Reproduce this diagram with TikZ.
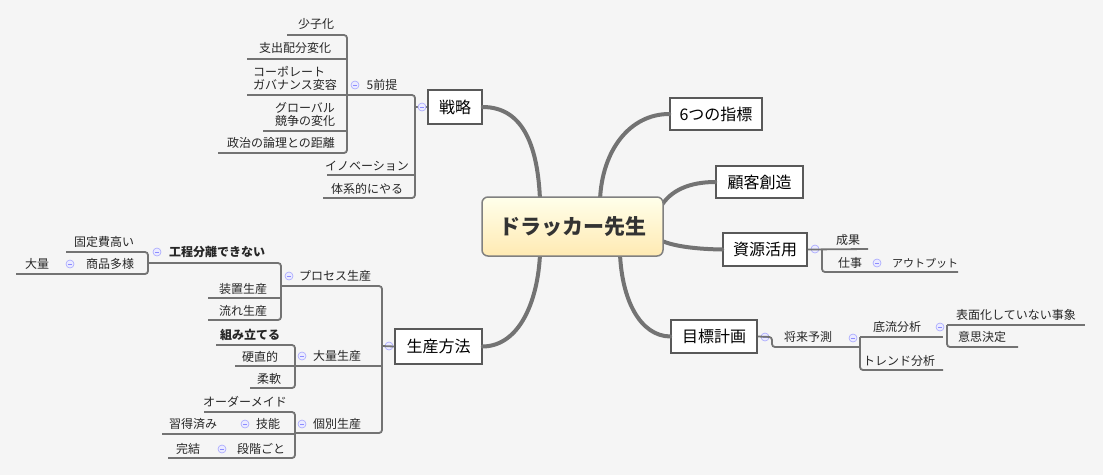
\documentclass[tikz,border=0pt]{standalone}
\usepackage{fontspec}
\setmainfont{Noto Sans CJK JP}
\begin{document}
\begin{tikzpicture}[x=1pt,y=-1pt,
 lbl/.style={font=\fontsize{12}{13}\selectfont,inner sep=0pt,text=black!85},
 topic/.style={draw=black!65,line width=1.5pt,fill=white,font=\fontsize{16}{18}\selectfont,inner sep=0pt},
 br/.style={draw=black!55,line width=1.8pt,rounded corners=3pt},
 mainc/.style={draw=black!55,line width=4pt,line cap=round},
 coll/.style={circle,draw=blue!35,fill=blue!8,minimum size=8pt,inner sep=0pt,line width=0.6pt,
   path picture={\draw[blue!45,line width=0.6pt] ([xshift=-2pt]path picture bounding box.center)--([xshift=2pt]path picture bounding box.center);}}]
\fill[black!4] (0,0) rectangle (1103,475);
\useasboundingbox (0,0) rectangle (1103,475);
\newcommand\lb[4]{\node[lbl] (#1) at (#2,#3) {#4};}
\newcommand\cc[3]{\node[coll] (#1) at (#2,#3) {};}
% main connectors
\coordinate (c1) at (540,200); \coordinate (c2) at (600,200);
\coordinate (c3) at (660,208); \coordinate (c4) at (660,240);
\coordinate (c5) at (620,254); \coordinate (c6) at (540,254);
\node[topic,minimum width=54pt,minimum height=34pt] (senryaku) at (455,107) {戦略};
\node[topic,minimum width=92pt,minimum height=32pt] (shihyo) at (716,114) {6つの指標};
\node[topic,minimum width=87pt,minimum height=32pt] (kokyaku) at (759.5,182) {顧客創造};
\node[topic,minimum width=84pt,minimum height=33pt] (shigen) at (765,249.5) {資源活用};
\node[topic,minimum width=86pt,minimum height=33pt] (mokuhyo) at (714,336.5) {目標計画};
\node[topic,minimum width=87pt,minimum height=35pt] (seisan) at (438.5,346.5) {生産方法};
\draw[mainc] (senryaku.east) .. controls (525,107) and (538,150) .. (c1);
\draw[mainc] (shihyo.west) .. controls (630,114) and (602,150) .. (c2);
\draw[mainc] (kokyaku.west) .. controls (690,182) and (670,190) .. (c3);
\draw[mainc] (shigen.west) .. controls (690,249) and (670,245) .. (c4);
\draw[mainc] (mokuhyo.west) .. controls (640,336) and (622,300) .. (c5);
\draw[mainc] (seisan.east) .. controls (520,346) and (538,300) .. (c6);
\node[draw=black!50,line width=1.5pt,rounded corners=6pt,top color=yellow!8,bottom color=yellow!45!orange!30,
 minimum width=181pt,minimum height=59pt,font=\fontsize{21}{23}\selectfont\bfseries,text=black!80] (center) at (572.5,226.5) {ドラッカー先生};
% 戦略 branch
\draw[br] (senryaku.west) -- (415,107);
\draw[br] (247,95) -- (415,95) -- (415,198) -- (323,198);
\draw[br] (415,175) -- (327,175);
\cc{cs}{422}{107}
\lb{zp}{382}{85}{5前提} \cc{czp}{355}{85}
\draw[br] (287,35) -- (347,35) -- (347,153) -- (218,153);
\draw[br] (247,59) -- (347,59);
\draw[br] (263,131) -- (347,131);
\lb{a1}{316}{24}{少子化}
\lb{a2}{295}{48}{支出配分変化}
\node[lbl,align=left] (a3) at (295,78) {コーポレート\\ガバナンス変容};
\node[lbl,align=center] (a4) at (305,114) {グローバル\\競争の変化};
\lb{a5}{281}{143}{政治の論理との距離}
\lb{a6}{367}{166}{イノベーション}
\lb{a7}{367}{189}{体系的にやる}
% 資源活用
\cc{csg}{815}{249}
\draw[br] (shigen.east) -- (868,249);
\draw[br] (822,249) -- (822,272) -- (958,272);
\lb{b1}{848}{240}{成果}
\lb{b2}{850}{263}{仕事} \cc{cb2}{877}{263}
\node[lbl,font=\fontsize{11}{12}\selectfont] (b3) at (925,263) {アウトプット};
% 目標計画
\cc{cmk}{765}{337}
\draw[br] (mokuhyo.east) -- (772,337) -- (772,347) -- (860,347);
\lb{m1}{808}{337}{将来予測} \cc{cm1}{853}{338}
\draw[br] (860,337) -- (943,337);
\draw[br] (860,337) -- (860,370) -- (943,370);
\lb{m2}{897}{327}{底流分析} \cc{cm2}{940}{327}
\lb{m3}{899}{361}{トレンド分析}
\draw[br] (947,325) -- (1085,325);
\draw[br] (947,325) -- (947,347) -- (1018,347);
\lb{m4}{1016}{315}{表面化していない事象}
\lb{m5}{982}{337}{意思決定}
% 生産方法
\cc{css}{389}{346}
\draw[br] (seisan.west) -- (382,346);
\draw[br] (282,286) -- (382,286) -- (382,433) -- (295,433);
\draw[br] (295,366) -- (382,366);
\lb{p1}{335}{276}{プロセス生産} \cc{cp1}{289}{276}
\lb{p2}{337}{356}{大量生産} \cc{cp2}{302}{356}
\lb{p3}{337}{424}{個別生産} \cc{cp3}{302}{424}
% プロセス生産 children
\draw[br] (148,263) -- (281,263) -- (281,320) -- (208,320);
\draw[br] (208,298) -- (281,298);
\node[lbl,font=\fontsize{12}{13}\selectfont\bfseries] (q1) at (217,252) {工程分離できない}; \cc{cq1}{157}{252}
\lb{q2}{243}{289}{装置生産}
\lb{q3}{243}{311}{流れ生産}
\draw[br] (66,252) -- (148,252) -- (148,274) -- (16,274);
\lb{r1}{104}{242}{固定費高い}
\lb{r2}{110}{264}{商品多様} \cc{cr2}{70}{264}
\lb{r3}{37}{264}{大量}
% 大量生産 children
\draw[br] (216,345) -- (295,345) -- (295,388) -- (250,388);
\draw[br] (235,366) -- (295,366);
\node[lbl,font=\fontsize{12}{13}\selectfont\bfseries] (s1) at (250,335) {組み立てる};
\lb{s2}{260}{357}{硬直的}
\lb{s3}{269}{379}{柔軟}
% 個別生産 children
\draw[br] (204,412) -- (295,412) -- (295,458) -- (168,458);
\draw[br] (162,434) -- (295,434);
\lb{t1}{245}{402}{オーダーメイド}
\lb{t2}{193}{424}{習得済み} \cc{ct2}{245}{424}
\lb{t3}{268}{424}{技能}
\lb{t4}{188}{449}{完結} \cc{ct4}{222}{449}
\lb{t5}{261}{449}{段階ごと}
\end{tikzpicture}
\end{document}
